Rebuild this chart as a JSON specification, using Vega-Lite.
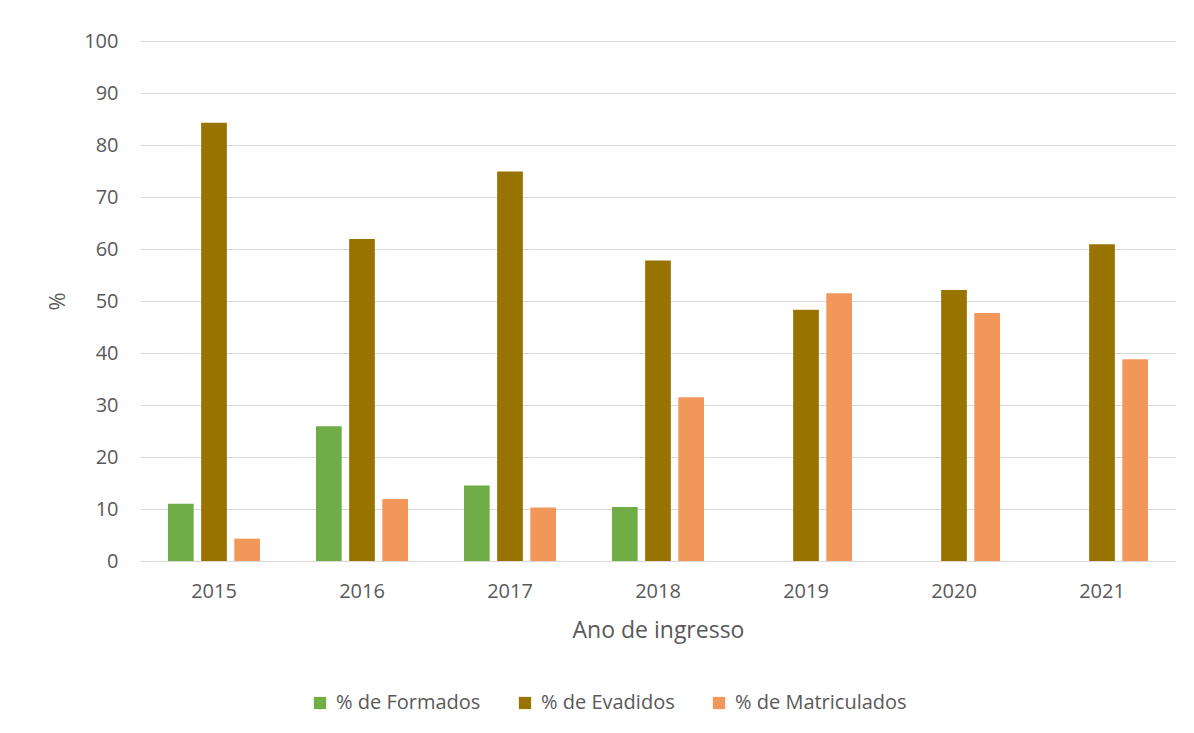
{
  "$schema": "https://vega.github.io/schema/vega-lite/v6.json",
  "width": 1036,
  "height": 520,
  "autosize": {"type": "none"},
  "padding": {"left": 140, "top": 41, "right": 18, "bottom": 172},
  "background": "white",
  "data": {
    "values": [
      {"ano": "2015", "serie": "% de Formados", "valor": 11.0},
      {"ano": "2015", "serie": "% de Evadidos", "valor": 84.3},
      {"ano": "2015", "serie": "% de Matriculados", "valor": 4.3},
      {"ano": "2016", "serie": "% de Formados", "valor": 25.9},
      {"ano": "2016", "serie": "% de Evadidos", "valor": 61.9},
      {"ano": "2016", "serie": "% de Matriculados", "valor": 11.9},
      {"ano": "2017", "serie": "% de Formados", "valor": 14.5},
      {"ano": "2017", "serie": "% de Evadidos", "valor": 74.9},
      {"ano": "2017", "serie": "% de Matriculados", "valor": 10.3},
      {"ano": "2018", "serie": "% de Formados", "valor": 10.4},
      {"ano": "2018", "serie": "% de Evadidos", "valor": 57.8},
      {"ano": "2018", "serie": "% de Matriculados", "valor": 31.5},
      {"ano": "2019", "serie": "% de Evadidos", "valor": 48.3},
      {"ano": "2019", "serie": "% de Matriculados", "valor": 51.5},
      {"ano": "2020", "serie": "% de Evadidos", "valor": 52.1},
      {"ano": "2020", "serie": "% de Matriculados", "valor": 47.7},
      {"ano": "2021", "serie": "% de Evadidos", "valor": 60.9},
      {"ano": "2021", "serie": "% de Matriculados", "valor": 38.8}
    ]
  },
  "mark": {"type": "bar"},
  "encoding": {
    "x": {
      "field": "ano",
      "type": "nominal",
      "scale": {"paddingInner": 0.378, "paddingOuter": 0.189},
      "axis": {
        "title": "Ano de ingresso",
        "labelAngle": 0,
        "domain": false,
        "ticks": false,
        "tickSize": 0,
        "labelPadding": 20,
        "labelFontSize": 20,
        "labelColor": "#595959",
        "titleFontSize": 23,
        "titleFontWeight": "normal",
        "titleColor": "#595959",
        "titlePadding": 18
      }
    },
    "xOffset": {
      "field": "serie",
      "type": "nominal",
      "sort": ["% de Formados", "% de Evadidos", "% de Matriculados"],
      "scale": {"paddingInner": 0.225, "paddingOuter": 0}
    },
    "y": {
      "field": "valor",
      "type": "quantitative",
      "scale": {"domain": [0, 100], "nice": false},
      "axis": {
        "title": "%",
        "values": [0, 10, 20, 30, 40, 50, 60, 70, 80, 90, 100],
        "domain": false,
        "ticks": false,
        "tickSize": 0,
        "labelPadding": 22,
        "labelFontSize": 20,
        "labelColor": "#595959",
        "gridColor": "#D9D9D9",
        "gridWidth": 1,
        "titleFontSize": 22,
        "titleFontWeight": "normal",
        "titleColor": "#595959",
        "titlePadding": 14
      }
    },
    "color": {
      "field": "serie",
      "type": "nominal",
      "sort": ["% de Formados", "% de Evadidos", "% de Matriculados"],
      "scale": {
        "domain": ["% de Formados", "% de Evadidos", "% de Matriculados"],
        "range": ["#70AD47", "#997300", "#F1975A"]
      },
      "legend": {
        "title": null,
        "orient": "none",
        "legendX": 170,
        "legendY": 652,
        "direction": "horizontal",
        "symbolType": "square",
        "symbolSize": 150,
        "symbolStrokeWidth": 0,
        "labelFontSize": 20,
        "labelColor": "#595959",
        "labelLimit": 400,
        "labelOffset": 6,
        "columnPadding": 34,
        "padding": 0
      }
    }
  },
  "config": {
    "view": {"stroke": null},
    "font": "Open Sans"
  }
}
